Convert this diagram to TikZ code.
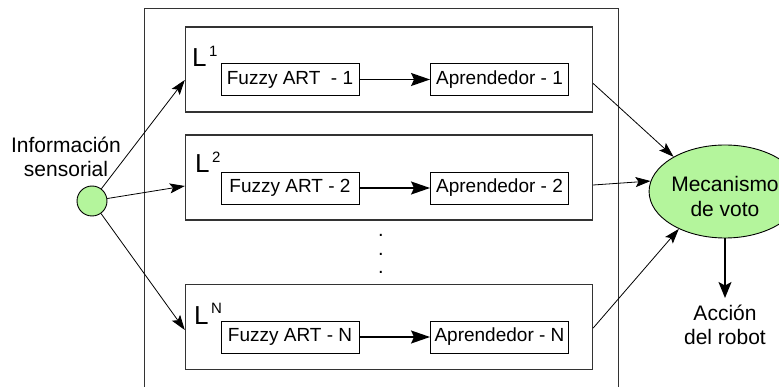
\documentclass[tikz,border=0pt]{standalone}
\usepackage{fontspec}
\setmainfont{Liberation Sans}
\definecolor{mygreen}{HTML}{B4F59C}
\usetikzlibrary{shapes.geometric, arrows.meta, calc}
\tikzset{
	layernode/.style={
			draw=black!80,
			line width=1.4pt,
			minimum width=407pt,
			minimum height=85pt,
			inner sep=0pt
		},
	innernode/.style={
			draw=black,
			line width=0.9pt,
			minimum width=138pt,
			minimum height=32pt,
			inner sep=0pt,
			font=\fontsize{19}{22}\selectfont
		},
	labelnode/.style={
			inner sep=0pt,
			anchor=base west,
			font=\fontsize{26}{28}\selectfont
		},
	textnode/.style={
			align=center,
			inner sep=0pt,
			font=\fontsize{21}{24}\selectfont
		},
	inputnode/.style={
			circle,
			draw=black,
			line width=0.9pt,
			fill=mygreen,
			minimum size=30pt,
			inner sep=0pt
		},
	votenode/.style={
			ellipse,
			draw=black,
			line width=0.9pt,
			fill=mygreen,
			minimum width=114pt,
			minimum height=93pt,
			inner sep=0pt,
			align=center,
			font=\fontsize{21}{25}\selectfont
		},
	innerarrow/.style={
			line width=1.6pt,
			-{Stealth[length=19pt,width=13pt,inset=3pt]}
		},
	outarrow/.style={
			line width=0.8pt,
			-{Stealth[length=15pt,width=10pt,inset=3pt]}
		},
	downarrow/.style={
			line width=1.3pt,
			-{Stealth[length=16pt,width=13pt,inset=3.5pt]}
		}
}

\begin{document}
\begin{tikzpicture}[x=1pt, y=-1pt]
\useasboundingbox (0,0) rectangle (779,387);

% outer frame
\draw[draw=black!80, line width=1pt] (144,400) -- (144,9) -- (618,9) -- (618,400);

\node[inputnode] (in) at (92,201) {};
\node[textnode, anchor=base] (info) at (66,177) {Información\\sensorial};

\node[layernode] (l1) at (389,69.5) {};
\node[layernode] (l2) at (389,177.5) {};
\node[layernode] (ln) at (389,327) {};

\node[labelnode] (t1) at (192,67) {L\raisebox{10pt}{\fontsize{15}{15}\selectfont\,1}};
\node[labelnode] (t2) at (195,173) {L\raisebox{10pt}{\fontsize{15}{15}\selectfont\,2}};
\node[labelnode] (tn) at (194,324) {L\raisebox{10pt}{\fontsize{15}{15}\selectfont\,N}};

\node[innernode] (f1) at (290,79.5) {Fuzzy ART\ \ - 1};
\node[innernode] (a1) at (499.5,79.5) {Aprendedor - 1};
\node[innernode] (f2) at (290,188) {Fuzzy ART - 2};
\node[innernode] (a2) at (499.5,188) {Aprendedor - 2};
\node[innernode] (fn) at (290,337) {Fuzzy ART - N};
\node[innernode] (an) at (499.5,337) {Aprendedor - N};

\node[textnode, font=\fontsize{20}{18.5}\selectfont] (dots) at (381,254) {.\\.\\.};

\node[votenode] (vote) at (725,191.5) {\rule{0pt}{25pt}Mecanismo\\de voto};
\node[textnode, anchor=north, outer sep=7pt] (act) at (725,298) {Acción\\del robot};

\draw[innerarrow] (f1) -- (a1);
\draw[innerarrow] (f2) -- (a2);
\draw[innerarrow] (fn) -- (an);

\draw[outarrow] (in) -- ($(l1.west)+(0,10.5)$);
\draw[outarrow] (in) -- ($(l2.west)+(0,8.5)$);
\draw[outarrow] (in) -- ($(ln.west)+(0,3)$);

\draw[outarrow] ($(l1.east)+(0,14)$) -- (vote.146);
\draw[outarrow] ($(l2.east)+(0,7.5)$) -- (vote.172);
\draw[outarrow] ($(ln.east)+(0,1)$) -- (vote.219);

\draw[downarrow] (vote) -- (act);
\end{tikzpicture}
\end{document}
